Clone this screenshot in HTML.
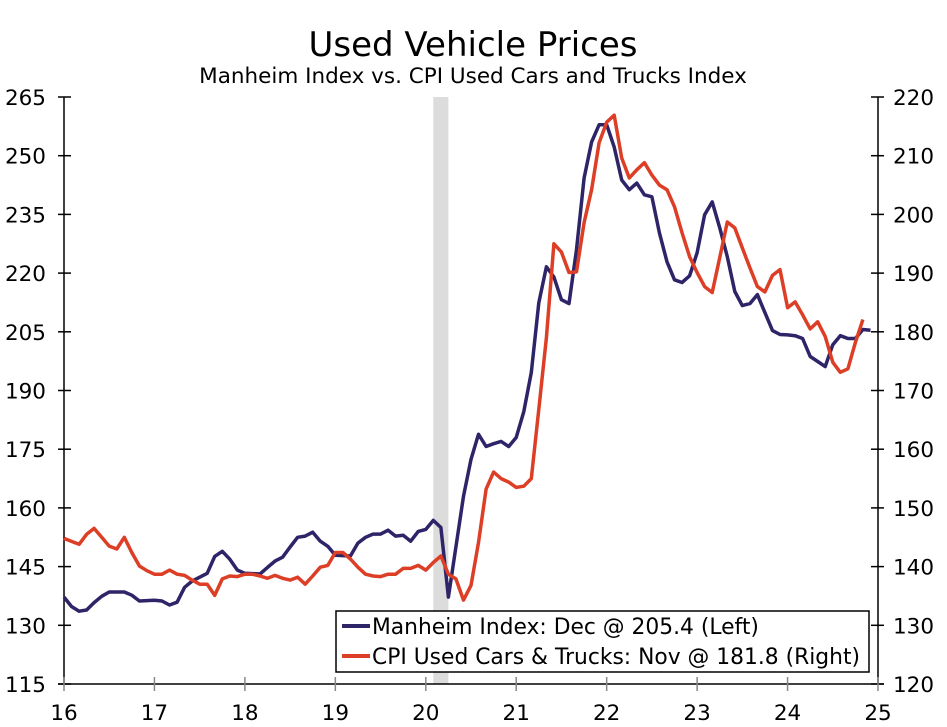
<!DOCTYPE html>
<html><head><meta charset="utf-8"><style>
html,body{margin:0;padding:0;background:#fff;}
svg{display:block;font-family:"DejaVu Sans","Liberation Sans",sans-serif;}
</style></head><body>
<svg id="chart" width="947" height="727" viewBox="0 0 947 727">
<text x="473" y="56" text-anchor="middle" font-size="34" fill="#000">Used Vehicle Prices</text>
<text x="473" y="83" text-anchor="middle" font-size="21.5" fill="#000">Manheim Index vs. CPI Used Cars and Trucks Index</text>
<g id="plot"></g>
<g>
<rect x="336" y="611" width="533" height="61" fill="#fff" stroke="#000" stroke-width="1.5"/>
<line x1="342" y1="626" x2="370" y2="626" stroke="#2e2468" stroke-width="4"/>
<text x="372" y="634" font-size="21.8">Manheim Index: Dec @ 205.4 (Left)</text>
<line x1="342" y1="656" x2="370" y2="656" stroke="#dc3f26" stroke-width="4"/>
<text x="372" y="664" font-size="21.8">CPI Used Cars &amp; Trucks: Nov @ 181.8 (Right)</text>
</g>
</svg>
<script>
const yearLabels = ["16","17","18","19","20","21","22","23","24","25"];
const leftTicks = [115,130,145,160,175,190,205,220,235,250,265];
const rightTicks = [120,130,140,150,160,170,180,190,200,210,220];
const recessionMonths = [49, 51];
const manheim = [137.2,134.8,133.6,133.9,135.8,137.4,138.5,138.5,138.5,137.7,136.2,136.3,
136.4,136.2,135.2,135.9,139.7,141.3,142.3,143.3,147.6,148.9,146.9,144.1,
143.3,143.2,143.1,144.8,146.4,147.4,150,152.5,152.8,153.8,151.5,150.2,
147.9,147.8,147.7,151,152.5,153.3,153.3,154.3,152.8,153,151.5,154,
154.5,156.8,155,137.2,150,163,172.4,178.8,175.7,176.4,177,175.7,
178,184.6,194.6,212.4,221.6,219,213.2,212.2,226,244.3,253.5,257.9,
257.9,252.2,243.8,241.3,243,240,239.5,230.3,222.9,218.3,217.6,219.3,
225.2,234.9,238.2,231.6,224.2,215.3,211.7,212.2,214.5,209.9,205.3,204.3,
204.2,204,203.3,198.7,197.4,196.1,201.7,204,203.3,203.3,205.6,205.4];
const cpi = [144.8,144.3,143.8,145.5,146.5,145,143.5,143,145,142.4,140.1,139.3,
138.7,138.7,139.4,138.7,138.5,137.7,137,137,135.1,137.9,138.4,138.3,
138.7,138.7,138.4,138,138.5,138,137.7,138.2,137,138.4,139.9,140.2,
142.4,142.4,141.3,139.9,138.7,138.4,138.3,138.7,138.7,139.7,139.7,140.2,
139.4,140.7,141.8,138.7,137.9,134.3,136.8,144.1,153.2,156.1,155,154.4,
153.5,153.7,155,166.8,179,195,193.6,190.1,190.2,198.6,204.2,212.2,
215.7,216.9,209.6,206.2,207.6,208.8,206.7,205,204.2,201.3,196.9,192.8,
190.1,187.7,186.7,192.6,198.7,197.7,194.3,190.9,187.7,186.8,189.6,190.6,
184.1,185.1,182.9,180.5,181.7,179.2,174.8,173.1,173.7,178.2,182.1];

const NS="http://www.w3.org/2000/svg";
const X0=64, X1=878, Y0=97, Y1=684;
const monthW=(X1-X0)/108;
function xm(i){return X0+i*monthW;}
function xYear(k){return X0+k*12*monthW;}
function yL(v){return Y1-(v-115)/(265-115)*(Y1-Y0);}
function yR(v){return Y1-(v-120)/(220-120)*(Y1-Y0);}
const g=document.getElementById('plot');
function mk(tag,attrs){const e=document.createElementNS(NS,tag);for(const k in attrs)e.setAttribute(k,attrs[k]);g.appendChild(e);return e;}

const rec=mk('rect',{x:xm(recessionMonths[0]),y:Y0,width:xm(recessionMonths[1])-xm(recessionMonths[0]),height:Y1-Y0,fill:'#dcdcdc'});



let a=mk('line',{x1:X0,y1:Y0,x2:X0,y2:Y1,stroke:'#000','stroke-width':1.5});


a=mk('line',{x1:X1,y1:Y0,x2:X1,y2:Y1,stroke:'#000','stroke-width':1.5});


a=mk('line',{x1:X0-6,y1:Y1,x2:X1+6,y2:Y1,stroke:'#000','stroke-width':1.5});



leftTicks.forEach(v=>{
  const y=yL(v);
  const t=mk('line',{x1:X0-6,y1:y,x2:X0+7,y2:y,stroke:'#000','stroke-width':1.5});
  
  
  const l=mk('text',{x:46,y:y+8,'text-anchor':'end','font-size':21.5});
  l.textContent=v;
  
  
});
rightTicks.forEach(v=>{
  const y=yR(v);
  const t=mk('line',{x1:X1-7,y1:y,x2:X1+6,y2:y,stroke:'#000','stroke-width':1.5});
  
  
  const l=mk('text',{x:893,y:y+8,'font-size':21.5});
  l.textContent=v;
  
  
});
yearLabels.forEach((s,k)=>{
  const x=xYear(k);
  const t=mk('line',{x1:x,y1:Y1-7,x2:x,y2:Y1+7,stroke:'#888','stroke-width':1.5});
  
  
  const l=mk('text',{x:x,y:720,'text-anchor':'middle','font-size':21.5});
  l.textContent=s;
  
  
});

function series(vals,yf,color,name){
  const d=vals.map((v,i)=>(i?'L':'M')+xm(i).toFixed(1)+','+yf(v).toFixed(1)).join('');
  const p=mk('path',{d:d,fill:'none',stroke:color,'stroke-width':3.5,'stroke-linejoin':'round'});
  
  
}
series(manheim,yL,'#2e2468','manheim-line');
series(cpi,yR,'#dc3f26','cpi-line');
</script>
</body></html>
